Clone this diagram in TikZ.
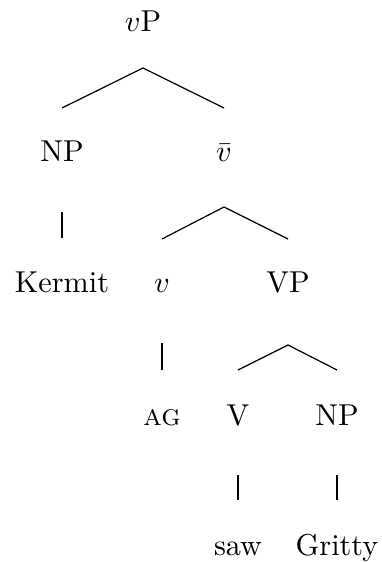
\documentclass[tikz,border=0pt]{standalone}
\usetikzlibrary{calc}

\begin{document}
\begin{tikzpicture}[
  x=0.331pt, y=-0.331pt,
  cat/.style={anchor=base, inner sep=0pt},
  branch/.style={line width=0.4pt, color=black}
]
\useasboundingbox (0,0) rectangle (381,562);

% Categories, level by level
\node[cat] (vp) at (143,32) {$v$P};
\node[cat] (np1) at (62,162) {NP};
\node[cat] (vbar) at (224,162) {$\bar{v}$};
\node[cat] (kermit) at (62,293) {Kermit};
\node[cat] (vhead) at (162,293) {$v$};
\node[cat] (vp2) at (288,293) {VP};
\node[cat] (ag) at (162,425) {\textsc{ag}};
\node[cat] (verb) at (238,425) {V};
\node[cat] (np2) at (337,425) {NP};
\node[cat] (saw) at (238,555) {saw};
\node[cat] (gritty) at (337,555) {Gritty};

% Branches
\draw[branch] ($(np1.base)+(0,-54)$) -- ($(vp.base)+(0,36)$) -- ($(vbar.base)+(0,-54)$);
\draw[branch] ($(vhead.base)+(0,-54)$) -- ($(vbar.base)+(0,45)$) -- ($(vp2.base)+(0,-54)$);
\draw[branch] ($(verb.base)+(0,-55)$) -- ($(vp2.base)+(0,52)$) -- ($(np2.base)+(0,-55)$);

% Unary branches
\draw[branch] ($(np1.base)+(0,50)$) -- ($(kermit.base)+(0,-55)$);
\draw[branch] ($(vhead.base)+(0,50)$) -- ($(ag.base)+(0,-55)$);
\draw[branch] ($(verb.base)+(0,50)$) -- ($(saw.base)+(0,-55)$);
\draw[branch] ($(np2.base)+(0,50)$) -- ($(gritty.base)+(0,-55)$);

\end{tikzpicture}
\end{document}
